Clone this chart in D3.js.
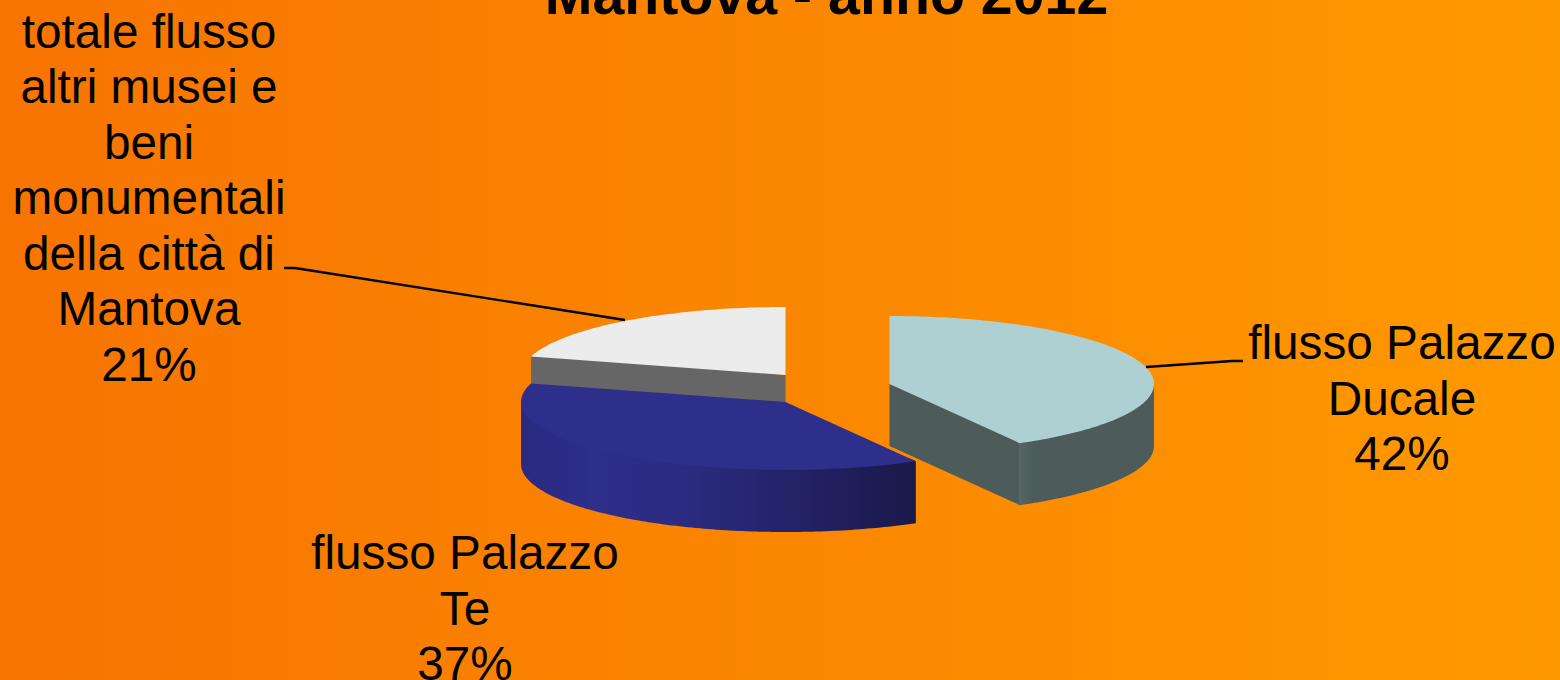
<!DOCTYPE html>
<html><head><meta charset="utf-8">
<script src="https://cdnjs.cloudflare.com/ajax/libs/d3/7.8.5/d3.min.js"></script>
<style>html,body{margin:0;padding:0;background:#f77400;overflow:hidden}text{font-family:"Liberation Sans",Arial,sans-serif;fill:#000}</style>
</head><body><svg id="c" width="1560" height="680"></svg>
<script>
const categories=["flusso Palazzo Ducale","flusso Palazzo Te","totale flusso altri musei e beni monumentali della città di Mantova"];
const values=[41.8,37.6,20.6];
const titleText="Mantova - anno 2012";
const labelLines=[["flusso Palazzo","Ducale","42%"],["flusso Palazzo","Te","37%"],["totale flusso","altri musei e","beni","monumentali","della città di","Mantova","21%"]];
const topColors=["#aed0d2","#2e2e8b","#ececec"];
const sideColors=["url(#sideA)","url(#sideB)","#666666"];
const centers=[[889.5,384],[785.5,402],[785.5,375]];
const labelPos=[[1402,359],[465,569],[149,47.5]];
const leaders=[[[1146,367],[1232,361],[1243,361]],[],[[284,268],[295,268],[625,320]]];

const W=1560,H=680,RX=264.5,RY=68,DEPTH=62,LINE=55.5;
const svg=d3.select("#c");
const defs=svg.append("defs");
function grad(id,x1,x2,stops){
  const g=defs.append("linearGradient").attr("id",id).attr("gradientUnits","userSpaceOnUse")
    .attr("x1",x1).attr("x2",x2).attr("y1",0).attr("y2",0);
  stops.forEach(s=>g.append("stop").attr("offset",s[0]).attr("stop-color",s[1]));
}
grad("bg",0,W,[[0,"#f77400"],[1,"#ff9900"]]);
grad("sideB",521,915,[[0,"#2a2a80"],[0.18,"#2e2e8b"],[0.45,"#2a2a7e"],[0.75,"#212162"],[1,"#19194a"]]);
grad("sideA",1019,1154,[[0,"#566666"],[0.1,"#4d5b5b"],[1,"#4d5b5b"]]);

svg.append("rect").attr("width",W).attr("height",H).attr("fill","url(#bg)");

const pie=d3.pie().sort(null).value(d=>d);
const arcs=pie(values);
const rScaleX=d3.scaleLinear().domain([0,1]).range([0,RX]);
const rScaleY=d3.scaleLinear().domain([0,1]).range([0,RY]);
const px=(i,a,r=1)=>centers[i][0]+rScaleX(r*Math.sin(a));
const py=(i,a,r=1,d=0)=>centers[i][1]-rScaleY(r*Math.cos(a))+d;
const line=d3.line();
function arcPts(i,a0,a1,d,r=1){
  const n=Math.max(2,Math.ceil(Math.abs(a1-a0)*60));
  return d3.range(n+1).map(k=>{const a=a0+(a1-a0)*k/n;return [px(i,a,r),py(i,a,r,d)];});
}
// flat cut face; its upper edge is tucked under the top face to avoid a seam
function cutFace(i,a,fill,g){
  const ex=px(i,a),ey=py(i,a),cx=centers[i][0],cy=centers[i][1];
  g.append("path").attr("fill",fill).attr("d",line([
    [ex,ey],[(ex+cx)/2,(ey+cy)/2-3],[cx,cy],[cx,cy+DEPTH],[ex,ey+DEPTH]])+"Z");
}
[2,0,1].forEach(i=>{
  const s=arcs[i],g=svg.append("g");
  const lo=Math.max(s.startAngle,Math.PI/2),hi=Math.min(s.endAngle,3*Math.PI/2);
  if(i===2) cutFace(i,s.startAngle,sideColors[i],g);
  if(i===0) cutFace(i,s.endAngle,"#4d5b5b",g);
  if(hi>lo&&i!==2){
    const pts=arcPts(i,lo,hi,DEPTH)
      .concat([[px(i,hi),py(i,hi)]])
      .concat(arcPts(i,hi,lo,0,0.96))
      .concat([[px(i,lo),py(i,lo)]]);
    g.append("path").attr("fill",sideColors[i]).attr("d",line(pts)+"Z");
  }
  const top=[[centers[i][0],centers[i][1]]].concat(arcPts(i,s.startAngle,s.endAngle,0));
  g.append("path").attr("fill",topColors[i]).attr("d",line(top)+"Z");
});

leaders.filter(l=>l.length).forEach(l=>{
  svg.append("path").attr("d",line(l)).attr("fill","none").attr("stroke","#000").attr("stroke-width",2.4);
});

svg.append("text").attr("x",826.5).attr("y",14).attr("text-anchor","middle")
  .attr("font-size",57.3).attr("font-weight","bold").text(titleText);

labelLines.forEach((lines,i)=>{
  const t=svg.append("text").attr("text-anchor","middle").attr("font-size",47.7);
  lines.forEach((l,k)=>t.append("tspan").attr("x",labelPos[i][0]).attr("y",labelPos[i][1]+k*LINE).text(l));
});
</script></body></html>
